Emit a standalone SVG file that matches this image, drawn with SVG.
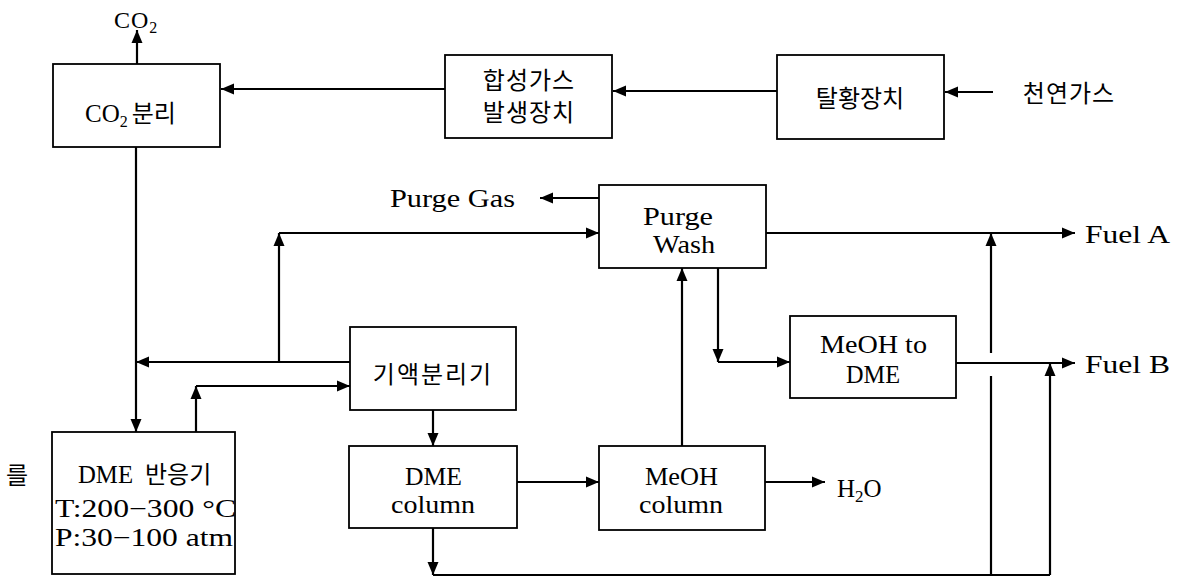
<svg xmlns="http://www.w3.org/2000/svg" width="1177" height="577" viewBox="0 0 1177 577">
  <defs>
    <marker id="arrow" markerUnits="userSpaceOnUse" markerWidth="14" markerHeight="12" refX="13" refY="6" orient="auto">
      <path d="M0,0.5 L13,6 L0,11.5 z" fill="#000"/>
    </marker>
    <style>
      .box { fill: #fff; stroke: #000; stroke-width: 1.8; }
      .wire { fill: none; stroke: #000; stroke-width: 2.2; }
      .arr { marker-end: url(#arrow); }
      text { font-family: "Liberation Serif", "Noto Sans CJK KR", serif; fill: #000; font-weight: normal; }
      .lat { font-size: 25px; }
      .kr { font-family: "Noto Sans CJK KR", sans-serif; font-size: 24px; }
      .mid { text-anchor: middle; }
    </style>
  </defs>

  <rect width="1177" height="577" fill="#fff"/>

  <!-- connectors -->
  <g id="connectors">
    <path class="wire arr" d="M993,92 H945"/>
    <path class="wire arr" d="M777,91 H613"/>
    <path class="wire arr" d="M445,89 H221"/>
    <path class="wire arr" d="M137,64 V30"/>
    <path class="wire arr" d="M136,147 V432"/>
    <path class="wire arr" d="M196,432 V386"/>
    <path class="wire arr" d="M196,386 H350"/>
    <path class="wire arr" d="M350,362 H136"/>
    <path class="wire arr" d="M279,362 V233"/>
    <path class="wire arr" d="M279,233 H599"/>
    <path class="wire arr" d="M599,198 H540"/>
    <path class="wire arr" d="M433,410 V446"/>
    <path class="wire arr" d="M517,482 H599"/>
    <path class="wire arr" d="M765,482 H825"/>
    <path class="wire arr" d="M682,446 V268"/>
    <path class="wire arr" d="M718,268 V362"/>
    <path class="wire arr" d="M718,362 H790"/>
    <path class="wire arr" d="M766,233 H1075"/>
    <path class="wire arr" d="M956,363 H1075"/>
    <path class="wire arr" d="M433,528 V575"/>
    <path class="wire" d="M433,575 H1050"/>
    <path class="wire" d="M991,575 V376"/>
    <path class="wire arr" d="M991,353 V233"/>
    <path class="wire arr" d="M1050,575 V363"/>
  </g>

  <!-- free labels -->
  <g id="label-co2-out">
    <text x="114" y="28" font-size="24" letter-spacing="1">CO<tspan font-size="16" dy="5">2</tspan></text>
  </g>
  <g id="label-natural-gas">
    <text class="kr mid" x="1069" y="102" letter-spacing="1">천연가스</text>
  </g>
  <g id="label-purge-gas">
    <text class="lat" x="390" y="207" textLength="125" lengthAdjust="spacingAndGlyphs">Purge Gas</text>
  </g>
  <g id="label-fuel-a">
    <text class="lat" x="1085" y="243" textLength="85" lengthAdjust="spacingAndGlyphs">Fuel A</text>
  </g>
  <g id="label-fuel-b">
    <text class="lat" x="1085" y="373" textLength="85" lengthAdjust="spacingAndGlyphs">Fuel B</text>
  </g>
  <g id="label-water">
    <text class="lat" x="837" y="497">H<tspan font-size="17" dy="5">2</tspan><tspan dy="-5">O</tspan></text>
  </g>
  <g id="label-side">
    <text class="kr mid" x="17" y="484" font-size="22">를</text>
  </g>

  <!-- process units -->
  <g id="co2-separation">
    <rect class="box" x="53" y="64" width="167" height="83"/>
    <text x="85" y="122" font-size="25">CO<tspan font-size="16" dy="5">2</tspan><tspan class="kr" font-size="26" dy="-5" dx="4">분리</tspan></text>
  </g>

  <g id="syngas-generator">
    <rect class="box" x="445" y="55" width="167" height="83"/>
    <text class="kr mid" x="529" y="89" font-size="23" letter-spacing="1">합성가스</text>
    <text class="kr mid" x="529" y="121" font-size="23" letter-spacing="1">발생장치</text>
  </g>

  <g id="desulfurizer">
    <rect class="box" x="777" y="55" width="167" height="84"/>
    <text class="kr mid" x="860" y="107" font-size="23.5">탈황장치</text>
  </g>

  <g id="purge-wash">
    <rect class="box" x="599" y="185" width="167" height="83"/>
    <text class="lat" x="643" y="225" textLength="70" lengthAdjust="spacingAndGlyphs">Purge</text>
    <text class="lat" x="653" y="253" textLength="62" lengthAdjust="spacingAndGlyphs">Wash</text>
  </g>

  <g id="gas-liquid-separator">
    <rect class="box" x="350" y="327" width="166" height="83"/>
    <text class="kr mid" x="433" y="383" font-size="23" letter-spacing="2">기액분리기</text>
  </g>

  <g id="meoh-to-dme">
    <rect class="box" x="790" y="316" width="166" height="82"/>
    <text class="lat" x="820" y="353" textLength="107" lengthAdjust="spacingAndGlyphs">MeOH to</text>
    <text class="lat" x="846" y="383" textLength="54" lengthAdjust="spacingAndGlyphs">DME</text>
  </g>

  <g id="dme-reactor">
    <rect class="box" x="52" y="432" width="183" height="142"/>
    <text class="lat" x="78" y="483" textLength="55" lengthAdjust="spacingAndGlyphs">DME</text>
    <text class="kr" x="145" y="483">반응기</text>
    <text class="lat" x="55" y="517" textLength="181" lengthAdjust="spacingAndGlyphs">T:200−300 °C</text>
    <text class="lat" x="55" y="546" textLength="178" lengthAdjust="spacingAndGlyphs">P:30−100 atm</text>
  </g>

  <g id="dme-column">
    <rect class="box" x="349" y="446" width="168" height="82"/>
    <text class="lat" x="405" y="485" textLength="57" lengthAdjust="spacingAndGlyphs">DME</text>
    <text class="lat" x="391" y="513" textLength="84" lengthAdjust="spacingAndGlyphs">column</text>
  </g>

  <g id="meoh-column">
    <rect class="box" x="599" y="446" width="166" height="84"/>
    <text class="lat" x="645" y="485" textLength="73" lengthAdjust="spacingAndGlyphs">MeOH</text>
    <text class="lat" x="639" y="513" textLength="84" lengthAdjust="spacingAndGlyphs">column</text>
  </g>
</svg>
